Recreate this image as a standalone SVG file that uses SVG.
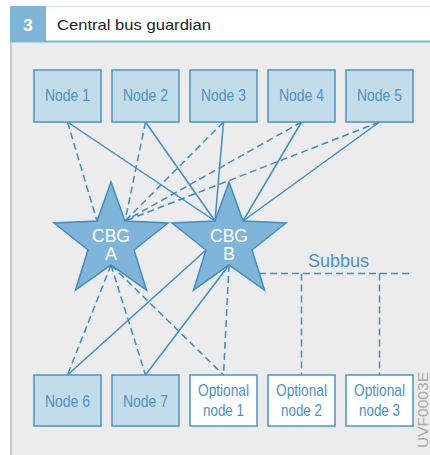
<svg xmlns="http://www.w3.org/2000/svg" width="430" height="455" viewBox="0 0 430 455">
  <style>
    .box{fill:#c3dcea;stroke:#4a95c8;stroke-width:1.5}
    .opt{fill:#ffffff;stroke:#4a95c8;stroke-width:1.5}
    .lbl{font-family:"Liberation Sans",Arial,sans-serif;font-size:17px;fill:#4a92c4;text-anchor:middle}
    .star{fill:#7fb5d8;stroke:#3f8dc3;stroke-width:1.5;stroke-linejoin:miter}
    .slbl{font-family:"Liberation Sans",Arial,sans-serif;font-size:18px;fill:#ffffff;text-anchor:middle}
    .ln{stroke:#3f8dc3;stroke-width:1.5;fill:none}
    .dash{stroke-dasharray:7 4}
  </style>
  <defs>
    <path id="starShape" d="M0,-60 L14,-21 L57,-19 L23,8 L35.5,48 L0,23 L-35.5,48 L-23,8 L-57,-19 L-14,-21 Z"/>
  </defs>

  <!-- background panel -->
  <rect x="0" y="0" width="430" height="455" fill="#ffffff"/>
  <rect x="10" y="42" width="420" height="413" fill="#ebeceb"/>
  <rect x="10" y="42" width="2" height="413" fill="#c6c8c8"/>

  <!-- header -->
  <g id="header">
    <rect x="46" y="6" width="384" height="35" fill="#ffffff"/>
    <line x1="46" y1="6.5" x2="430" y2="6.5" stroke="#d6e6f1" stroke-width="1"/>
    <rect x="10" y="6" width="36" height="36" fill="#7eb6d8"/>
    <rect x="10" y="40.5" width="420" height="2" fill="#7eb6d8"/>
    <text x="28" y="31" font-family="'Liberation Sans',Arial,sans-serif" font-size="17" font-weight="bold" fill="#ffffff" text-anchor="middle">3</text>
    <text x="57" y="29.5" font-family="'Liberation Sans',Arial,sans-serif" font-size="14.5" fill="#222222" textLength="154" lengthAdjust="spacingAndGlyphs">Central bus guardian</text>
  </g>

  <!-- connectors -->
  <g id="connectors" class="ln">
    <!-- top nodes to CBG A (dashed) -->
    <line class="dash" x1="67.5" y1="122" x2="97" y2="221"/>
    <line class="dash" x1="145.5" y1="122" x2="125" y2="221"/>
    <line class="dash" x1="223.5" y1="122" x2="125" y2="221"/>
    <line class="dash" x1="301.5" y1="122" x2="125" y2="221"/>
    <line class="dash" x1="379.5" y1="122" x2="125" y2="221"/>
    <!-- top nodes to CBG B (solid) -->
    <line x1="67.5" y1="122" x2="215" y2="221"/>
    <line x1="145.5" y1="122" x2="215" y2="221"/>
    <line x1="223.5" y1="122" x2="215" y2="221"/>
    <line x1="301.5" y1="122" x2="243" y2="221"/>
    <line x1="379.5" y1="122" x2="243" y2="221"/>
    <!-- CBG A to bottom (dashed) -->
    <line class="dash" x1="111" y1="265" x2="67.5" y2="375"/>
    <line class="dash" x1="111" y1="265" x2="145.5" y2="375"/>
    <line class="dash" x1="111" y1="265" x2="223.5" y2="375"/>
    <!-- CBG B to bottom -->
    <line x1="206" y1="250" x2="67.5" y2="375"/>
    <line x1="229" y1="265" x2="145.5" y2="375"/>
    <line class="dash" x1="229" y1="265" x2="223.5" y2="375"/>
    <!-- subbus -->
    <line class="dash" x1="259" y1="273.5" x2="413" y2="273.5"/>
    <line class="dash" x1="301.5" y1="273.5" x2="301.5" y2="375"/>
    <line class="dash" x1="379.5" y1="273.5" x2="379.5" y2="375"/>
  </g>

  <text x="308" y="267" font-family="'Liberation Sans',Arial,sans-serif" font-size="18" fill="#4a92c4">Subbus</text>

  <!-- top nodes -->
  <g id="node1"><rect class="box" x="34" y="70" width="67" height="52"/><text class="lbl" x="67.5" y="101" textLength="45" lengthAdjust="spacingAndGlyphs">Node 1</text></g>
  <g id="node2"><rect class="box" x="112" y="70" width="67" height="52"/><text class="lbl" x="145.5" y="101" textLength="45" lengthAdjust="spacingAndGlyphs">Node 2</text></g>
  <g id="node3"><rect class="box" x="190" y="70" width="67" height="52"/><text class="lbl" x="223.5" y="101" textLength="45" lengthAdjust="spacingAndGlyphs">Node 3</text></g>
  <g id="node4"><rect class="box" x="268" y="70" width="67" height="52"/><text class="lbl" x="301.5" y="101" textLength="45" lengthAdjust="spacingAndGlyphs">Node 4</text></g>
  <g id="node5"><rect class="box" x="346" y="70" width="67" height="52"/><text class="lbl" x="379.5" y="101" textLength="45" lengthAdjust="spacingAndGlyphs">Node 5</text></g>

  <!-- stars -->
  <g id="cbgA">
    <use href="#starShape" class="star" transform="translate(111,242)"/>
    <text class="slbl" x="111" y="241.5" textLength="38" lengthAdjust="spacingAndGlyphs">CBG</text>
    <text class="slbl" x="111" y="260">A</text>
  </g>
  <g id="cbgB">
    <use href="#starShape" class="star" transform="translate(229,242)"/>
    <text class="slbl" x="229" y="241.5" textLength="38" lengthAdjust="spacingAndGlyphs">CBG</text>
    <text class="slbl" x="229" y="260">B</text>
  </g>

  <!-- bottom nodes -->
  <g id="node6"><rect class="box" x="34" y="375" width="67" height="51"/><text class="lbl" x="67.5" y="406.5" textLength="45" lengthAdjust="spacingAndGlyphs">Node 6</text></g>
  <g id="node7"><rect class="box" x="112" y="375" width="67" height="51"/><text class="lbl" x="145.5" y="406.5" textLength="45" lengthAdjust="spacingAndGlyphs">Node 7</text></g>
  <g id="opt1"><rect class="opt" x="190" y="375" width="67" height="51"/><text class="lbl" x="223.5" y="395.5" textLength="51" lengthAdjust="spacingAndGlyphs">Optional</text><text class="lbl" x="223.5" y="415.5" textLength="41" lengthAdjust="spacingAndGlyphs">node 1</text></g>
  <g id="opt2"><rect class="opt" x="268" y="375" width="67" height="51"/><text class="lbl" x="301.5" y="395.5" textLength="51" lengthAdjust="spacingAndGlyphs">Optional</text><text class="lbl" x="301.5" y="415.5" textLength="41" lengthAdjust="spacingAndGlyphs">node 2</text></g>
  <g id="opt3"><rect class="opt" x="346" y="375" width="67" height="51"/><text class="lbl" x="379.5" y="395.5" textLength="51" lengthAdjust="spacingAndGlyphs">Optional</text><text class="lbl" x="379.5" y="415.5" textLength="41" lengthAdjust="spacingAndGlyphs">node 3</text></g>

  <text transform="translate(428,448) rotate(-90)" font-family="'Liberation Sans',Arial,sans-serif" font-size="15" fill="#a9a9a9" textLength="76" lengthAdjust="spacingAndGlyphs">UVF0003E</text>
</svg>
